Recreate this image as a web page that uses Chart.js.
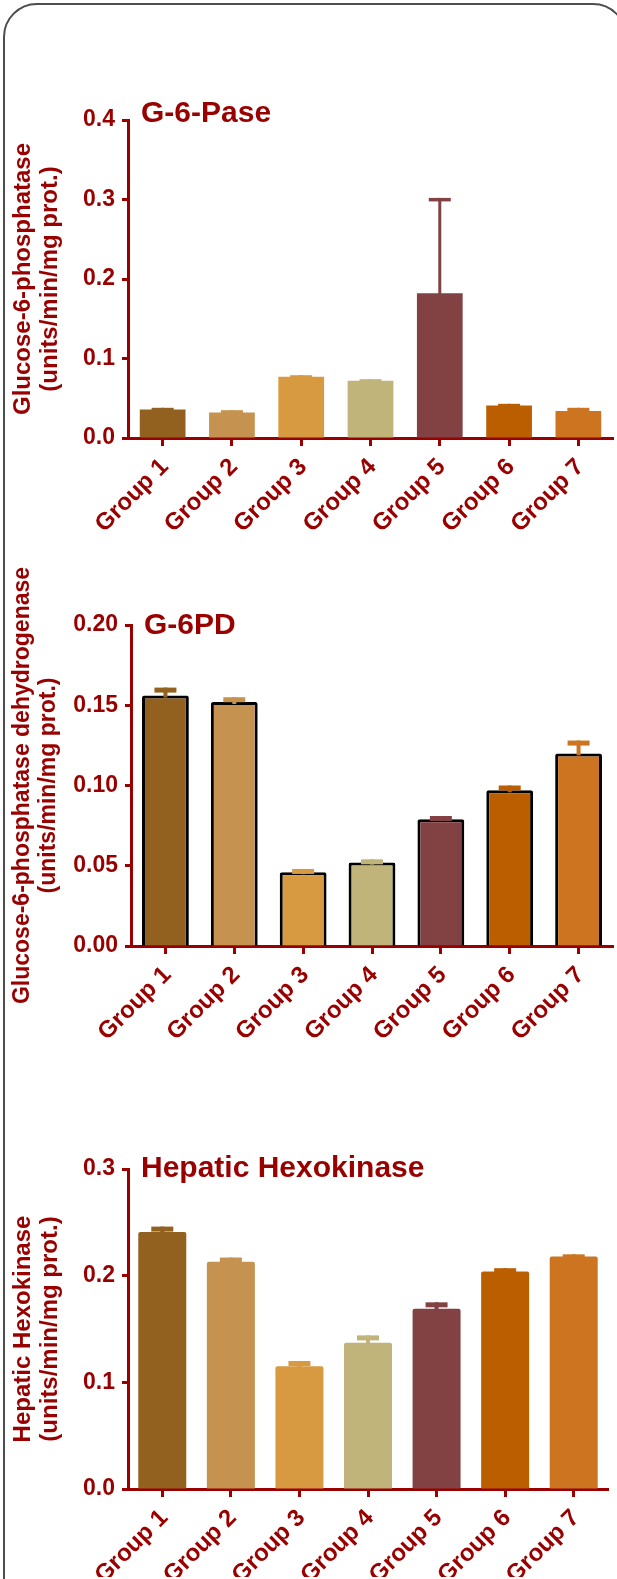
<!DOCTYPE html>
<html>
<head>
<meta charset="utf-8">
<script src="https://cdn.jsdelivr.net/npm/chart.js@4.4.0/dist/chart.umd.min.js"></script>
<style>
body { margin: 0; width: 617px; height: 1579px; overflow: hidden; background: #fff; position: relative; }
#frame { position: absolute; left: 3px; top: 3px; width: 620px; height: 1680px; border: 2px solid #4d4d4d; border-radius: 34px; }
.box { position: absolute; left: 0; width: 617px; }
</style>
</head>
<body>
<div id="frame"></div>
<div class="box" style="top:60px;height:500px"><canvas id="c1"></canvas></div>
<div class="box" style="top:540px;height:550px"><canvas id="c2"></canvas></div>
<div class="box" style="top:1100px;height:479px"><canvas id="c3"></canvas></div>
<script>
var groups = ["Group 1", "Group 2", "Group 3", "Group 4", "Group 5", "Group 6", "Group 7"]

// G-6-Pase
var g6pase_mean = [0.036, 0.032, 0.077, 0.072, 0.182, 0.041, 0.034]
var g6pase_err = [0.002, 0.003, 0.002, 0.002, 0.120, 0.002, 0.004]

// G-6PD
var g6pd_mean = [0.156, 0.152, 0.046, 0.052, 0.079, 0.097, 0.120]
var g6pd_err = [0.005, 0.003, 0.002, 0.002, 0.002, 0.003, 0.008]

// Hepatic hexokinase
var hk_mean = [0.241, 0.213, 0.115, 0.137, 0.169, 0.204, 0.218]
var hk_err = [0.005, 0.004, 0.005, 0.007, 0.006, 0.003, 0.002]

var g6pase_ticks = [0.0, 0.1, 0.2, 0.3, 0.4]
var g6pd_ticks = [0.00, 0.05, 0.10, 0.15, 0.20]
var hk_ticks = [0.0, 0.1, 0.2, 0.3]

var bar_colors = ["#93611f", "#c5934f", "#d89a41", "#c0b47b", "#824143", "#bb5e00", "#cc7420"]
var red = "#990000"
var fontFam = '"Liberation Sans", Arial, sans-serif'

// error bars drawn upward only, from bar top
var errorBars = {
    id: "errorBars",
    afterDatasetsDraw: function(chart, args, opts){
        var ctx = chart.ctx
        var meta = chart.getDatasetMeta(0)
        var yScale = chart.scales.y
        var vals = chart.data.datasets[0].data
        ctx.save()
        ctx.lineCap = "butt"
        for (var i = 0; i < meta.data.length; i++){
            var bar = meta.data[i]
            var top = yScale.getPixelForValue(vals[i] + opts.errors[i])
            ctx.strokeStyle = bar_colors[i]
            ctx.lineWidth = opts.stem
            ctx.beginPath()
            ctx.moveTo(bar.x, bar.y + 2)
            ctx.lineTo(bar.x, top)
            ctx.stroke()
            ctx.lineWidth = opts.cap
            ctx.beginPath()
            ctx.moveTo(bar.x - 11, top + opts.cap / 2)
            ctx.lineTo(bar.x + 11, top + opts.cap / 2)
            ctx.stroke()
        }
        ctx.restore()
    }
}

var panelTitle = {
    id: "panelTitle",
    afterDraw: function(chart, args, opts){
        var ctx = chart.ctx
        ctx.save()
        ctx.font = "bold 30px " + fontFam
        ctx.fillStyle = red
        ctx.textAlign = "left"
        ctx.textBaseline = "alphabetic"
        ctx.fillText(opts.text, chart.chartArea.left + 13, chart.chartArea.top + opts.dy)
        ctx.restore()
    }
}

function makeChart(id, means, errs, ticks, decimals, yTitle, title, s){
    var yFont = { family: fontFam, size: 23, weight: "bold" }
    var xFont = { family: fontFam, size: 24, weight: "bold" }
    return new Chart(document.getElementById(id), {
        type: "bar",
        data: {
            labels: groups,
            datasets: [{
                data: means,
                backgroundColor: bar_colors,
                borderColor: s.border ? "#000" : bar_colors,
                borderWidth: s.border ? 3 : 0,
                borderRadius: s.radius,
                borderSkipped: "start",
                categoryPercentage: 1,
                barPercentage: s.barPct
            }]
        },
        options: {
            responsive: true,
            maintainAspectRatio: false,
            animation: false,
            layout: { padding: { top: s.padTop, right: s.padRight, bottom: s.padBottom, left: 0 } },
            plugins: {
                legend: { display: false },
                tooltip: { enabled: false },
                errorBars: { errors: errs, stem: s.stem, cap: s.cap },
                panelTitle: { text: title, dy: s.titleDy }
            },
            scales: {
                x: {
                    offset: true,
                    afterFit: function(sc){ sc.height = s.xHeight },
                    border: { color: red, width: 3 },
                    grid: { drawOnChartArea: false, offset: false, tickLength: 8, tickWidth: 3, tickColor: red, color: red },
                    ticks: { color: red, font: xFont, minRotation: 45, maxRotation: 45, padding: 7, labelOffset: 2 }
                },
                y: {
                    min: ticks[0],
                    max: ticks[ticks.length - 1],
                    afterFit: function(sc){ sc.width = s.yWidth },
                    afterBuildTicks: function(sc){ sc.ticks = ticks.map(function(v){ return { value: v } }) },
                    border: { color: red, width: 3 },
                    grid: { drawOnChartArea: false, tickLength: 6, tickWidth: 3, tickColor: red, color: red },
                    ticks: {
                        color: red, font: yFont, padding: 7,
                        callback: function(v){ return Number(v).toFixed(decimals) }
                    },
                    title: {
                        display: true, text: yTitle, color: red,
                        font: { family: fontFam, size: s.yTitleSize, weight: "bold", lineHeight: 1.125 },
                        padding: { top: 10, bottom: 0 }
                    }
                }
            }
        },
        plugins: [errorBars, panelTitle]
    })
}

makeChart("c1", g6pase_mean, g6pase_err, g6pase_ticks, 1,
    ["Glucose-6-phosphatase", "(units/min/mg prot.)"], "G-6-Pase",
    { border: false, radius: 0, barPct: 0.66, stem: 3, cap: 3.5, titleDy: 2, yTitleSize: 24,
      padTop: 60, padRight: 4, padBottom: 12, xHeight: 110, yWidth: 128 })

makeChart("c2", g6pd_mean, g6pd_err, g6pd_ticks, 2,
    ["Glucose-6-phosphatase dehydrogenase", "(units/min/mg prot.)"], "G-6PD",
    { border: true, radius: 2, barPct: 0.68, stem: 4, cap: 5, titleDy: 9, yTitleSize: 23,
      padTop: 85, padRight: 4, padBottom: 34, xHeight: 110, yWidth: 131 })

makeChart("c3", hk_mean, hk_err, hk_ticks, 1,
    ["Hepatic Hexokinase", "(units/min/mg prot.)"], "Hepatic Hexokinase",
    { border: false, radius: 2, barPct: 0.70, stem: 4, cap: 5, titleDy: 8, yTitleSize: 24,
      padTop: 69, padRight: 9, padBottom: 2, xHeight: 88, yWidth: 128 })
</script>
</body>
</html>
